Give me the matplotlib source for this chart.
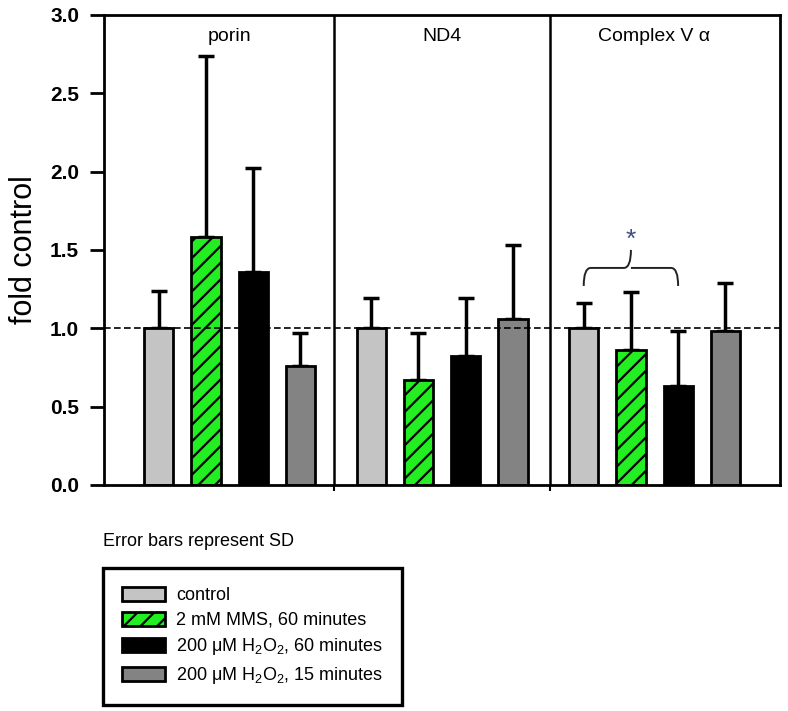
import matplotlib
matplotlib.use('Agg')
import matplotlib.pyplot as plt
from matplotlib.patches import Patch, PathPatch
from matplotlib.path import Path
import numpy as np

plt.rcParams['font.family'] = ['Liberation Sans', 'DejaVu Sans']
plt.rcParams['mathtext.fontset'] = 'custom'
plt.rcParams['mathtext.rm'] = 'Liberation Sans'
plt.rcParams['mathtext.it'] = 'Liberation Sans:italic'
plt.rcParams['hatch.linewidth'] = 1.6

# data
panels = ['porin', 'ND4', 'Complex V α']
treatments = ['control', '2 mM MMS, 60 minutes',
              '200 μM H$_2$O$_2$, 60 minutes', '200 μM H$_2$O$_2$, 15 minutes']
means = {
    'porin': [1.00, 1.58, 1.36, 0.76],
    'ND4': [1.00, 0.67, 0.82, 1.06],
    'Complex V α': [1.00, 0.86, 0.63, 0.98],
}
sds = {
    'porin': [0.24, 1.16, 0.66, 0.21],
    'ND4': [0.19, 0.30, 0.37, 0.47],
    'Complex V α': [0.16, 0.37, 0.35, 0.31],
}

colors = ['#c4c4c4', '#22ee22', '#000000', '#838383']
hatches = [None, '//', None, None]

fig = plt.figure(figsize=(7.88, 7.11), dpi=100)
ax = fig.add_axes([0.132, 0.318, 0.858, 0.661])

width = 0.62
group_gap = 4.5
for p, name in enumerate(panels):
    xs = np.arange(4) + p * group_gap
    for i in range(4):
        ax.bar(xs[i], means[name][i], width=width, color=colors[i],
               edgecolor='black', linewidth=2, hatch=hatches[i], zorder=2)
        ax.errorbar(xs[i], means[name][i], yerr=[[0], [sds[name][i]]],
                    fmt='none', ecolor='black', elinewidth=2.5, capsize=6,
                    capthick=2.5, zorder=1)
    ax.text(xs.mean(), 2.86, name, ha='center', va='center', fontsize=14)

# panel dividers
dividers = [3.71, 8.29]
for d in dividers:
    ax.axvline(d, color='black', lw=1.8, zorder=3)

ax.axhline(1.0, color='black', lw=1.2, ls=(0, (4, 2)), zorder=4)

# significance bracket (Complex V: control vs H2O2 60 min)
x0, x1, xm = 9.0, 11.0, 10.0
yb, yt, ytip = 1.27, 1.385, 1.50
verts = [(x0, yb), (x0, yt), (x0 + 0.15, yt),
         (xm - 0.15, yt), (xm, yt), (xm, ytip),
         (xm, yt), (xm + 0.15, yt),
         (x1 - 0.15, yt), (x1, yt), (x1, yb)]
codes = [Path.MOVETO, Path.CURVE3, Path.CURVE3,
         Path.LINETO, Path.CURVE3, Path.CURVE3,
         Path.MOVETO, Path.CURVE3,
         Path.LINETO, Path.CURVE3, Path.CURVE3]
ax.add_patch(PathPatch(Path(verts, codes), fill=False, lw=1.4,
                       edgecolor='#222222', zorder=5))
ax.text(xm, 1.49, '*', ha='center', va='bottom', fontsize=19,
        color='#3e4e80')

ax.set_xlim(-1.16, 13.16)
ax.set_ylim(0, 3.0)
ax.set_yticks(np.arange(0, 3.01, 0.5))
ax.set_yticklabels([f'{v:.1f}' for v in np.arange(0, 3.01, 0.5)],
                   fontsize=15, fontweight='bold')
ax.set_xticks(dividers)
ax.set_xticklabels([])
ax.tick_params(axis='y', length=10, width=2, direction='out', pad=8)
ax.tick_params(axis='x', length=4, width=1.5, direction='out')
for s in ax.spines.values():
    s.set_linewidth(2)
ax.set_ylabel('fold control', fontsize=22, labelpad=8)

fig.text(103 / 788, 1 - 541 / 711, 'Error bars represent SD', fontsize=13,
         va='center', ha='left')

handles = [Patch(facecolor=colors[i], edgecolor='black', linewidth=2,
                 hatch=hatches[i]) for i in range(4)]
leg = fig.legend(handles, treatments, loc='upper left',
                 bbox_to_anchor=(103 / 788, 1 - 568 / 711), fontsize=13,
                 frameon=True, fancybox=False, edgecolor='black',
                 framealpha=1, handlelength=2.4, handleheight=0.8,
                 handletextpad=0.6, labelspacing=0.42, borderpad=1.05,
                 borderaxespad=0)
leg.get_frame().set_linewidth(2.4)

fig.savefig('out.png', dpi=100)
